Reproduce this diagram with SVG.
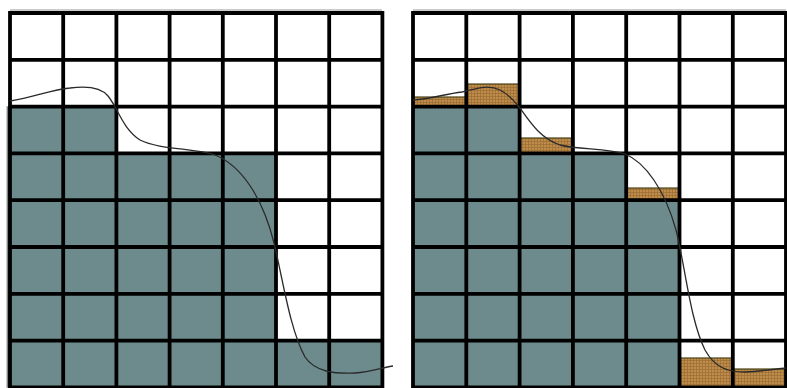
<svg xmlns="http://www.w3.org/2000/svg" width="787" height="388" viewBox="0 0 787 388">
<defs>
<style>
.teal{fill:#6d8b8c;stroke:#2f3d3d;stroke-width:1}
.ora{fill:url(#hatch);stroke:#4a4518;stroke-width:1.2}
.grid{stroke:#000;stroke-width:3.8;fill:none;stroke-linecap:square}
.curve{fill:none;stroke:#2a2a2a;stroke-width:1.3}
.shadow{stroke:#bbb;stroke-width:1.5}
</style>
<pattern id="hatch" width="3" height="3" patternUnits="userSpaceOnUse">
<rect width="3" height="3" fill="#bf8c4a"/>
<path d="M0,0.5H3M0.5,0V3" stroke="#8a5f2a" stroke-width="0.7" opacity="0.7"/>
</pattern>
</defs>
<rect width="787" height="388" fill="#fff"/>

<g id="left-panel">
<line class="shadow" x1="10" y1="10" x2="382" y2="10"/>
<line class="shadow" x1="7" y1="106" x2="7" y2="388"/>
<polygon class="teal" points="8,106.6 116.4,106.6 116.4,153.4 276,153.4 276,340.6 382.4,340.6 382.4,387.4 8,387.4"/>
<path class="grid" d="M10,13V387.4M63.2,13V387.4M116.4,13V387.4M169.6,13V387.4M222.8,13V387.4M276,13V387.4M329.2,13V387.4M382.4,13V387.4
M10,13H382.4M10,59.8H382.4M10,106.6H382.4M10,153.4H382.4M10,200.2H382.4M10,247H382.4M10,293.8H382.4M10,340.6H382.4M10,387.4H382.4"/>
<path class="curve" d="M10,101 C35,97 50,90 70,88 C85,86 100,86 108,96 C118,108 122,128 140,140 C160,150 195,148 215,155 C240,165 262,195 274,243 C283,280 290,330 305,357 C315,372 335,374 355,373 C370,372 385,367 393,366"/>
</g>

<g id="right-panel">
<line class="shadow" x1="413" y1="10" x2="786" y2="10"/>
<polygon class="teal" points="413,106.6 519.6,106.6 519.6,153.4 626.2,153.4 626.2,200.2 679.5,200.2 679.5,387.4 413,387.4"/>
<rect class="ora" x="413" y="97" width="53.3" height="9.6"/>
<rect class="ora" x="466.3" y="84" width="53.3" height="22.6"/>
<rect class="ora" x="519.6" y="138" width="53.4" height="15.4"/>
<rect class="ora" x="626.2" y="188" width="53.3" height="12.2"/>
<rect class="ora" x="679.5" y="358" width="53.3" height="29.4"/>
<rect class="ora" x="732.8" y="369" width="53.2" height="18.4"/>
<path class="grid" d="M413,13V387.4M466.3,13V387.4M519.6,13V387.4M572.9,13V387.4M626.2,13V387.4M679.5,13V387.4M732.8,13V387.4M786,13V387.4
M413,13H786M413,59.8H786M413,106.6H786M413,153.4H786M413,200.2H786M413,247H786M413,293.8H786M413,340.6H786M413,387.4H786"/>
<path class="curve" d="M413,100 C430,99 445,94 462,92 C475,89 488,84 500,90 C510,95 515,102 520,108 C530,122 540,138 560,145 C580,150 605,148 625,154 C645,162 665,190 676,230 C685,265 690,320 705,350 C715,368 728,372 745,372 C765,371 775,369 786,368"/>
</g>
</svg>
